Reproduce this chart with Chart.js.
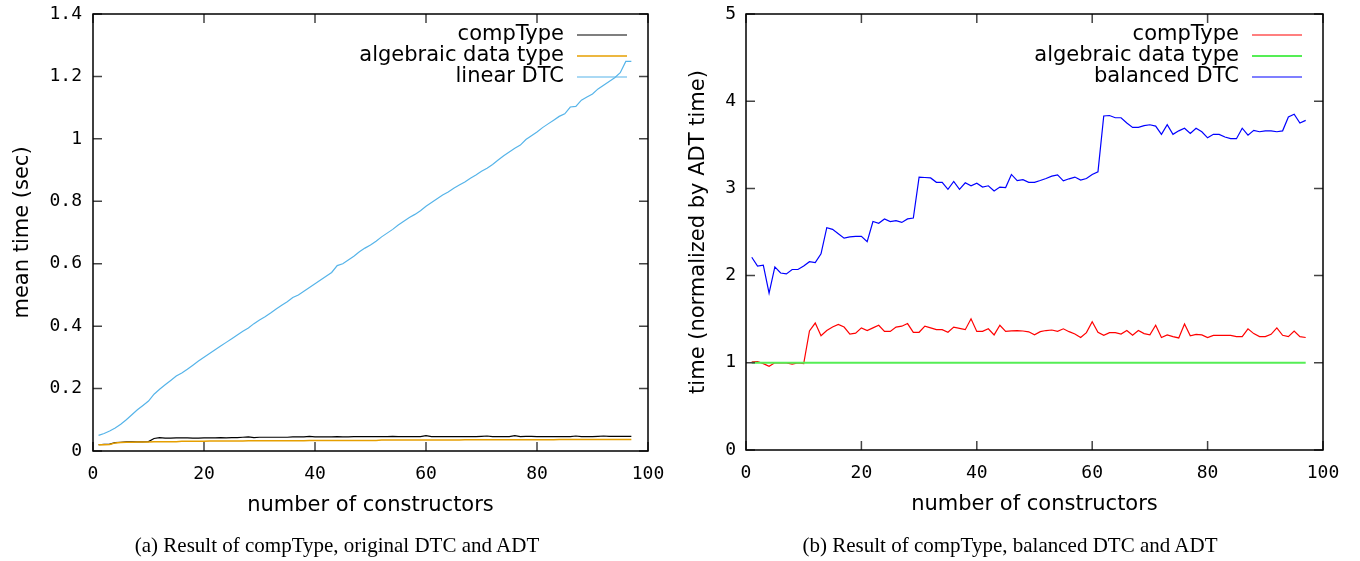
<!DOCTYPE html>
<html>
<head>
<meta charset="utf-8">
<script src="https://cdn.jsdelivr.net/npm/chart.js@4"></script>
<style>
  body { margin: 0; background: #fff; width: 1360px; height: 561px; position: relative; overflow: hidden; }
  .panel { position: absolute; top: 0; width: 680px; height: 561px; }
  .cap { position: absolute; top: 534px; line-height: 22px; font-family: 'Liberation Serif', serif; font-size: 21px; color: #000; white-space: nowrap; transform: translateX(-50%); }
</style>
</head>
<body>
<div class="panel" style="left:0"><canvas id="left" width="680" height="561"></canvas></div>
<div class="panel" style="left:680px"><canvas id="right" width="680" height="561"></canvas></div>
<div class="cap" style="left:337px">(a) Result of compType, original DTC and ADT</div>
<div class="cap" style="left:1010px">(b) Result of compType, balanced DTC and ADT</div>
<script>
// number of constructors (x) shared by both panels
const constructors = [1, 2, 3, 4, 5, 6, 7, 8, 9, 10, 11, 12, 13, 14, 15, 16, 17, 18, 19, 20,
  21, 22, 23, 24, 25, 26, 27, 28, 29, 30, 31, 32, 33, 34, 35, 36, 37, 38, 39, 40,
  41, 42, 43, 44, 45, 46, 47, 48, 49, 50, 51, 52, 53, 54, 55, 56, 57, 58, 59, 60,
  61, 62, 63, 64, 65, 66, 67, 68, 69, 70, 71, 72, 73, 74, 75, 76, 77, 78, 79, 80,
  81, 82, 83, 84, 85, 86, 87, 88, 89, 90, 91, 92, 93, 94, 95, 96, 97];

// (a) mean time in seconds
const compTypeSec = [0.020, 0.021, 0.022, 0.027, 0.028, 0.029, 0.029, 0.029, 0.029, 0.030,
  0.040, 0.043, 0.041, 0.041, 0.042, 0.042, 0.042, 0.041, 0.041, 0.042,
  0.042, 0.042, 0.043, 0.042, 0.043, 0.043, 0.044, 0.045, 0.043, 0.044,
  0.044, 0.044, 0.044, 0.044, 0.044, 0.045, 0.045, 0.045, 0.047, 0.045,
  0.045, 0.045, 0.045, 0.046, 0.045, 0.045, 0.046, 0.046, 0.046, 0.046,
  0.046, 0.046, 0.046, 0.047, 0.046, 0.046, 0.046, 0.046, 0.046, 0.049,
  0.046, 0.046, 0.046, 0.046, 0.046, 0.046, 0.046, 0.046, 0.046, 0.047,
  0.048, 0.046, 0.046, 0.046, 0.046, 0.049, 0.046, 0.047, 0.047, 0.046,
  0.046, 0.046, 0.046, 0.046, 0.046, 0.046, 0.048, 0.046, 0.046, 0.046,
  0.047, 0.048, 0.047, 0.047, 0.047, 0.047, 0.047];
const adtSec = [0.020, 0.020, 0.021, 0.026, 0.027, 0.028, 0.028, 0.029, 0.029, 0.029,
  0.030, 0.030, 0.030, 0.030, 0.030, 0.031, 0.031, 0.031, 0.031, 0.031,
  0.032, 0.032, 0.032, 0.032, 0.032, 0.032, 0.032, 0.033, 0.033, 0.033,
  0.033, 0.033, 0.033, 0.033, 0.033, 0.033, 0.033, 0.033, 0.034, 0.034,
  0.034, 0.034, 0.034, 0.034, 0.034, 0.034, 0.034, 0.034, 0.034, 0.034,
  0.034, 0.035, 0.035, 0.035, 0.035, 0.035, 0.035, 0.035, 0.035, 0.035,
  0.035, 0.035, 0.035, 0.035, 0.035, 0.035, 0.036, 0.036, 0.036, 0.036,
  0.036, 0.036, 0.036, 0.036, 0.036, 0.036, 0.036, 0.036, 0.036, 0.036,
  0.036, 0.036, 0.036, 0.037, 0.037, 0.037, 0.037, 0.037, 0.037, 0.037,
  0.037, 0.037, 0.037, 0.037, 0.037, 0.037, 0.037];
const linearDtcSec = [0.050, 0.056, 0.064, 0.074, 0.086, 0.100, 0.116, 0.132, 0.146, 0.160,
  0.182, 0.198, 0.212, 0.226, 0.240, 0.250, 0.262, 0.275, 0.288, 0.300,
  0.312, 0.324, 0.336, 0.348, 0.360, 0.372, 0.384, 0.394, 0.408, 0.420,
  0.430, 0.442, 0.455, 0.467, 0.478, 0.492, 0.500, 0.512, 0.524, 0.536,
  0.548, 0.560, 0.572, 0.594, 0.600, 0.612, 0.624, 0.638, 0.650, 0.660,
  0.672, 0.686, 0.698, 0.710, 0.724, 0.736, 0.748, 0.758, 0.770, 0.784,
  0.796, 0.808, 0.820, 0.830, 0.842, 0.852, 0.862, 0.874, 0.884, 0.896,
  0.906, 0.918, 0.932, 0.946, 0.958, 0.970, 0.980, 0.998, 1.010, 1.022,
  1.036, 1.048, 1.060, 1.072, 1.080, 1.102, 1.104, 1.124, 1.134, 1.144,
  1.160, 1.172, 1.184, 1.196, 1.212, 1.248, 1.248];

// (b) time normalized by ADT time
const compTypeNorm = [1.01, 1.015, 0.99, 0.96, 1.0, 1.0, 1.0, 0.985, 1.0, 0.99,
  1.365, 1.456, 1.31, 1.37, 1.41, 1.44, 1.41, 1.33, 1.34, 1.40,
  1.37, 1.40, 1.43, 1.36, 1.36, 1.41, 1.42, 1.45, 1.35, 1.35,
  1.42, 1.40, 1.38, 1.38, 1.35, 1.41, 1.395, 1.38, 1.505, 1.36,
  1.36, 1.39, 1.32, 1.43, 1.36, 1.365, 1.37, 1.365, 1.355, 1.32,
  1.357, 1.37, 1.376, 1.36, 1.39, 1.357, 1.33, 1.29, 1.346, 1.47,
  1.35, 1.315, 1.346, 1.346, 1.33, 1.37, 1.315, 1.37, 1.335, 1.32,
  1.43, 1.29, 1.32, 1.30, 1.285, 1.445, 1.31, 1.325, 1.32, 1.29,
  1.315, 1.315, 1.315, 1.315, 1.30, 1.30, 1.39, 1.335, 1.30, 1.30,
  1.327, 1.40, 1.315, 1.30, 1.365, 1.30, 1.29];
const adtNorm = [1, 1, 1, 1, 1, 1, 1, 1, 1, 1, 1, 1, 1, 1, 1, 1, 1, 1, 1, 1,
  1, 1, 1, 1, 1, 1, 1, 1, 1, 1, 1, 1, 1, 1, 1, 1, 1, 1, 1, 1,
  1, 1, 1, 1, 1, 1, 1, 1, 1, 1, 1, 1, 1, 1, 1, 1, 1, 1, 1, 1,
  1, 1, 1, 1, 1, 1, 1, 1, 1, 1, 1, 1, 1, 1, 1, 1, 1, 1, 1, 1,
  1, 1, 1, 1, 1, 1, 1, 1, 1, 1, 1, 1, 1, 1, 1, 1, 1];
const balancedDtcNorm = [2.21, 2.11, 2.12, 1.80, 2.10, 2.03, 2.02, 2.07, 2.07, 2.11,
  2.16, 2.15, 2.25, 2.55, 2.53, 2.48, 2.43, 2.445, 2.45, 2.45,
  2.39, 2.62, 2.60, 2.65, 2.62, 2.63, 2.61, 2.65, 2.66, 3.13,
  3.125, 3.12, 3.07, 3.07, 2.99, 3.08, 2.99, 3.065, 3.03, 3.06,
  3.015, 3.03, 2.97, 3.015, 3.01, 3.16, 3.09, 3.10, 3.07, 3.07,
  3.09, 3.114, 3.14, 3.156, 3.087, 3.11, 3.13, 3.095, 3.114, 3.16,
  3.19, 3.83, 3.836, 3.81, 3.81, 3.75, 3.70, 3.70, 3.72, 3.73,
  3.715, 3.62, 3.73, 3.62, 3.66, 3.69, 3.63, 3.69, 3.65, 3.58,
  3.62, 3.62, 3.59, 3.57, 3.57, 3.69, 3.61, 3.665, 3.65, 3.66,
  3.66, 3.65, 3.66, 3.82, 3.85, 3.75, 3.78];

// tick labels
const xTicks = [0, 20, 40, 60, 80, 100];
const secTicks = [0, 0.2, 0.4, 0.6, 0.8, 1, 1.2, 1.4];
const secTickLabels = ['0', '0.2', '0.4', '0.6', '0.8', '1', '1.2', '1.4'];
const normTicks = [0, 1, 2, 3, 4, 5];
const normTickLabels = ['0', '1', '2', '3', '4', '5'];

const tickFont = { family: 'DejaVu Sans Mono', size: 18 };
const labelFont = { family: 'DejaVu Sans', size: 21 };

// gnuplot-ish frame: border, inward mirrored ticks, key in top right
const gnuFrame = {
  id: 'gnuFrame',
  afterDraw(chart) {
    const { ctx, chartArea: a, scales: { x, y } } = chart;
    ctx.save();
    ctx.strokeStyle = '#444';
    ctx.lineWidth = 1.5;
    ctx.beginPath();
    x.ticks.forEach(t => {
      const px = x.getPixelForValue(t.value);
      ctx.moveTo(px, a.bottom); ctx.lineTo(px, a.bottom - 9);
      ctx.moveTo(px, a.top); ctx.lineTo(px, a.top + 9);
    });
    y.ticks.forEach(t => {
      const py = y.getPixelForValue(t.value);
      ctx.moveTo(a.left, py); ctx.lineTo(a.left + 9, py);
      ctx.moveTo(a.right, py); ctx.lineTo(a.right - 9, py);
    });
    ctx.stroke();
    ctx.strokeStyle = '#000';
    ctx.strokeRect(a.left, a.top, a.right - a.left, a.bottom - a.top);

    ctx.font = '21px "DejaVu Sans"';
    ctx.textAlign = 'right';
    ctx.textBaseline = 'middle';
    ctx.fillStyle = '#000';
    chart.data.datasets.forEach((ds, i) => {
      const ly = a.top + 21 + 21 * i;
      ctx.fillText(ds.label, a.right - 84, ly);
      ctx.strokeStyle = ds.borderColor;
      ctx.lineWidth = ds.borderWidth;
      ctx.beginPath();
      ctx.moveTo(a.right - 71, ly);
      ctx.lineTo(a.right - 21, ly);
      ctx.stroke();
    });
    ctx.restore();
  }
};

function line(label, values, color, width, order) {
  return {
    label: label,
    data: constructors.map((c, i) => ({ x: c, y: values[i] })),
    borderColor: color,
    borderWidth: width,
    pointRadius: 0,
    tension: 0,
    fill: false,
    order: order
  };
}

function panel(id, datasets, yMax, yTicks, yLabels, yTitle, opt) {
  return new Chart(document.getElementById(id), {
    type: 'line',
    data: { datasets: datasets },
    plugins: [gnuFrame],
    options: {
      responsive: false,
      devicePixelRatio: 1,
      animation: false,
      layout: { padding: { top: 14, right: opt.right, bottom: opt.bottom, left: 0 } },
      plugins: { legend: { display: false }, tooltip: { enabled: false } },
      scales: {
        x: {
          type: 'linear', min: 0, max: 100,
          afterBuildTicks: s => { s.ticks = xTicks.map(v => ({ value: v })); },
          afterFit: s => { s.height = 70; },
          grid: { display: false, drawTicks: false },
          border: { display: false },
          ticks: { font: tickFont, color: '#000', padding: 13, maxRotation: 0, callback: v => String(v) },
          title: { display: true, text: 'number of constructors', font: labelFont, color: '#000', padding: { top: 0, bottom: 3 } }
        },
        y: {
          type: 'linear', min: 0, max: yMax,
          afterBuildTicks: s => { s.ticks = yTicks.map(v => ({ value: v })); },
          afterFit: s => { s.width = opt.yWidth; s.paddingTop = 0; s.paddingBottom = 0; },
          grid: { display: false, drawTicks: false },
          border: { display: false },
          ticks: { font: tickFont, color: '#000', padding: opt.yPad, callback: (v, i) => yLabels[i] },
          title: { display: true, text: yTitle, font: labelFont, color: '#000', padding: { top: opt.titleTop, bottom: 0 } }
        }
      }
    }
  });
}

panel('left', [
  line('compType', compTypeSec, '#000000', 1.2, 3),
  line('algebraic data type', adtSec, '#E69F00', 1.5, 2),
  line('linear DTC', linearDtcSec, '#56B4E9', 1.2, 1)
], 1.4, secTicks, secTickLabels, 'mean time (sec)',
  { right: 32, bottom: 40, yWidth: 93, yPad: 11, titleTop: 10 });

panel('right', [
  line('compType', compTypeNorm, '#ff0000', 1.2, 3),
  line('algebraic data type', adtNorm, '#55ee55', 2, 2),
  line('balanced DTC', balancedDtcNorm, '#0000ff', 1.2, 1)
], 5, normTicks, normTickLabels, 'time (normalized by ADT time)',
  { right: 37, bottom: 41, yWidth: 66, yPad: 10, titleTop: 6 });
</script>
</body>
</html>
